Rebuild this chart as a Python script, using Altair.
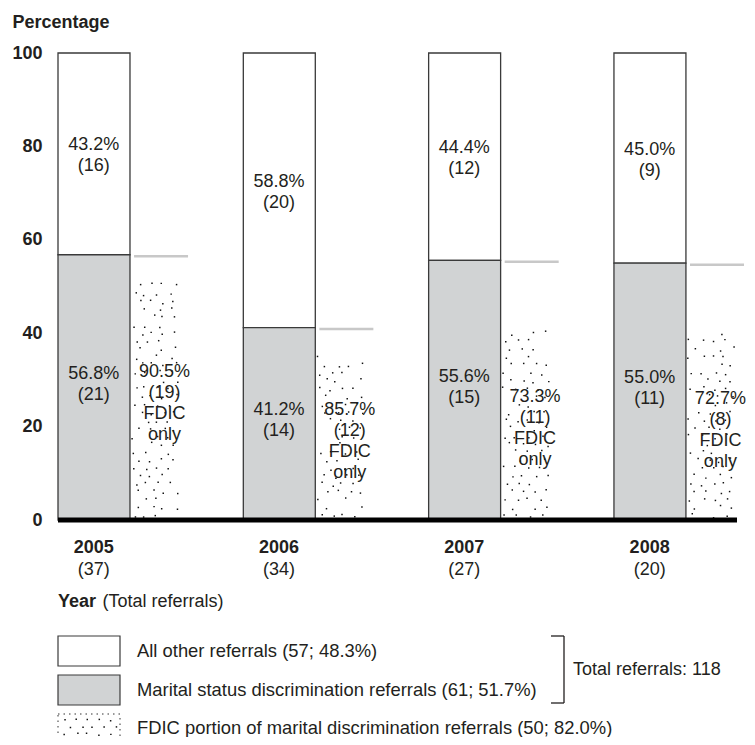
import altair as alt
import pandas as pd

# ---------------- data ----------------
years = ["2005", "2006", "2007", "2008"]
total_referrals = [37, 34, 27, 20]
other_pct = [43.2, 58.8, 44.4, 45.0]
other_n = [16, 20, 12, 9]
marital_pct = [56.8, 41.2, 55.6, 55.0]
marital_n = [21, 14, 15, 11]
fdic_pct = [90.5, 85.7, 73.3, 72.7]
fdic_n = [19, 12, 11, 8]
y_ticks = [0, 20, 40, 60, 80, 100]
legend_labels = [
    "All other referrals (57; 48.3%)",
    "Marital status discrimination referrals (61; 51.7%)",
    "FDIC portion of marital discrimination referrals (50; 82.0%)",
]
bracket_label = "Total referrals: 118"

# ---------------- styling ----------------
FONT = "Liberation Sans"
TXT = "#231f20"
GREY = "#d1d3d4"
EDGE = "#3a3a3a"
FS = 18
FS_LEG = 18.4
LH = 21
W, H = 679, 467
MAIN_END = 0.585
LABEL_POS = 0.29
FDIC_LABEL_POS = 0.865

df = pd.DataFrame({
    "year": years,
    "total": total_referrals,
    "other_pct": other_pct,
    "other_n": other_n,
    "marital_pct": marital_pct,
    "marital_n": marital_n,
    "fdic_pct": fdic_pct,
    "fdic_n": fdic_n,
})
df["fdic_height"] = df.marital_pct * df.fdic_pct / 100
df["other_mid"] = df.marital_pct + df.other_pct / 2
df["marital_mid"] = df.marital_pct / 2
df["fdic_mid"] = df.fdic_height / 2
df["top"] = 100
df["other_label"] = [f"{p:.1f}%\n({n})" for p, n in zip(other_pct, other_n)]
df["marital_label"] = [f"{p:.1f}%\n({n})" for p, n in zip(marital_pct, marital_n)]
df["fdic_label"] = [f"{p:.1f}%\n({n})\nFDIC\nonly" for p, n in zip(fdic_pct, fdic_n)]
df["total_label"] = [f"({n})" for n in total_referrals]

one = pd.DataFrame({"k": [0]})
leg_df = pd.DataFrame({"label": legend_labels, "i": [0, 1, 2]})

xs = alt.Scale(type="band", domain=years, paddingInner=0.336, paddingOuter=0)
ys = alt.Scale(domain=[0, 100], nice=False)
yaxis = alt.Axis(
    values=y_ticks, grid=False, domain=False, ticks=False, tickSize=0,
    labelPadding=16, labelFont=FONT, labelFontSize=18, labelFontWeight="bold",
    labelColor=TXT, title="Percentage", titleAngle=0, titleAlign="left",
    titleBaseline="middle", titleX=-46, titleY=-31, titleFont=FONT,
    titleFontSize=18, titleFontWeight="bold", titleColor=TXT,
)


def X(pos):
    return alt.X("year:N", scale=xs, bandPosition=pos, axis=None)


def X2(pos):
    return alt.X2("year", bandPosition=pos)


def Y(field):
    return alt.Y(field, scale=ys, axis=yaxis)


base = alt.Chart(df)

white = base.mark_bar(fill="white", stroke=EDGE, strokeWidth=1.3).encode(
    x=X(0), x2=X2(MAIN_END), y=Y("marital_pct:Q"), y2="top:Q"
)
grey = base.mark_bar(fill=GREY, stroke=EDGE, strokeWidth=1.3).encode(
    x=X(0), x2=X2(MAIN_END), y=Y("marital_pct:Q"), y2=alt.datum(0)
)
ref_line = base.mark_rule(color="#c8c8c8", strokeWidth=2.5, x2Offset=7, yOffset=1.5).encode(
    x=X(0.618), x2=X2(1.0), y=Y("marital_pct:Q")
)

# stipple texture of the FDIC bars (deterministic pattern, not data)
dots = base.transform_calculate(
    idx="sequence(0, 140)"
).transform_flatten(["idx"]).transform_calculate(
    row="floor(datum.idx / 4)",
    col="datum.idx % 4",
    jx="abs(sin(datum.idx * 12.9898 + toNumber(datum.year) * 4.1414) * 43758.5453) % 1",
    jy="abs(sin(datum.idx * 78.233 + toNumber(datum.year) * 2.7182) * 24634.6345) % 1",
    jk="abs(sin(datum.idx * 39.425 + toNumber(datum.year) * 1.618) * 15731.743) % 1",
).transform_calculate(
    u="0.6 + (datum.col + 0.5 * (datum.row % 2)) * 0.095 + datum.jx * 0.045",
    v="0.4 + datum.row * 1.7 + datum.jy * 1.0",
).transform_filter(
    "datum.v < datum.fdic_height - 0.2 && datum.jk > 0.12"
).mark_square(size=2.2, color="#111111", opacity=1).encode(
    x=X(0),
    xOffset=alt.XOffset("u:Q", scale=alt.Scale(domain=[0, 1])),
    y=Y("v:Q"),
)

baseline = alt.Chart(one).mark_rule(color="black", strokeWidth=5).encode(
    x=alt.value(0), x2=alt.value(W), y=alt.value(H)
)

txt_kw = dict(font=FONT, fontSize=FS, color=TXT, lineBreak="\n", lineHeight=LH, baseline="middle")
other_txt = base.mark_text(**txt_kw, dy=2 - LH / 2).encode(
    x=X(LABEL_POS), y=Y("other_mid:Q"), text="other_label:N"
)
marital_txt = base.mark_text(**txt_kw, dy=-3 - LH / 2).encode(
    x=X(LABEL_POS), y=Y("marital_mid:Q"), text="marital_label:N"
)
fdic_txt = base.mark_text(**txt_kw, dy=4 - 1.5 * LH).encode(
    x=X(FDIC_LABEL_POS), y=Y("fdic_mid:Q"), text="fdic_label:N"
)
year_txt = base.mark_text(font=FONT, fontSize=FS, fontWeight="bold", color=TXT, baseline="middle").encode(
    x=X(LABEL_POS), y=alt.value(495), text="year:N"
)
total_txt = base.mark_text(font=FONT, fontSize=FS, color=TXT, baseline="middle").encode(
    x=X(LABEL_POS), y=alt.value(517), text="total_label:N"
)

axis_title_a = alt.Chart(one).mark_text(font=FONT, fontSize=FS, fontWeight="bold", color=TXT,
                                         align="left", baseline="middle").encode(
    x=alt.value(0), y=alt.value(549), text=alt.value("Year"))
axis_title_b = alt.Chart(one).mark_text(font=FONT, fontSize=FS, color=TXT,
                                         align="left", baseline="middle").encode(
    x=alt.value(44.5), y=alt.value(549), text=alt.value("(Total referrals)"))

leg = alt.Chart(leg_df).transform_calculate(
    top="583 + datum.i * 39", bot="613 + datum.i * 39", mid="598 + datum.i * 38.5"
)
leg_boxes = leg.transform_filter("datum.i < 2").mark_rect(stroke=EDGE, strokeWidth=1.2).encode(
    x=alt.value(0), x2=alt.value(62),
    y=alt.Y("top:Q", scale=None), y2="bot:Q",
    fill=alt.Fill("label:N", scale=alt.Scale(domain=legend_labels, range=["white", GREY, "white"]), legend=None),
)
leg_box_dot = leg.transform_filter("datum.i == 2").mark_rect(
    fill="white", stroke="#333333", strokeWidth=1, strokeDash=[1.5, 4]
).encode(x=alt.value(0), x2=alt.value(62), y=alt.Y("top:Q", scale=None), y2=alt.Y2("bot:Q"))
leg_text = leg.mark_text(font=FONT, fontSize=FS_LEG, color=TXT, align="left", baseline="middle").encode(
    x=alt.value(79), y=alt.Y("mid:Q", scale=None), text="label:N"
)
leg_dots = alt.Chart(one).transform_calculate(
    idx="sequence(0, 30)"
).transform_flatten(["idx"]).transform_calculate(
    row="floor(datum.idx / 5)",
    col="datum.idx % 5",
    jx="abs(sin(datum.idx * 12.9898 + 3.1) * 43758.5453) % 1",
    jy="abs(sin(datum.idx * 78.233 + 1.7) * 24634.6345) % 1",
).transform_calculate(
    px="5 + (datum.col + 0.5 * (datum.row % 2)) * 11 + datum.jx * 4",
    py="666 + datum.row * 7 + datum.jy * 2.5",
).transform_filter("datum.px < 59").mark_square(size=2.2, color="#111111", opacity=1).encode(
    x=alt.X("px:Q", scale=None), y=alt.Y("py:Q", scale=None)
)

br_v = alt.Chart(one).mark_rule(color=TXT, strokeWidth=1.3).encode(
    x=alt.value(506), y=alt.value(583), y2=alt.value(650))
br_t = alt.Chart(one).mark_rule(color=TXT, strokeWidth=1.3).encode(
    x=alt.value(493), x2=alt.value(506), y=alt.value(583))
br_b = alt.Chart(one).mark_rule(color=TXT, strokeWidth=1.3).encode(
    x=alt.value(493), x2=alt.value(506), y=alt.value(650))
br_txt = alt.Chart(one).mark_text(font=FONT, fontSize=FS, color=TXT, align="left", baseline="middle").encode(
    x=alt.value(515), y=alt.value(617), text=alt.value(bracket_label))

chart = alt.layer(
    white, grey, ref_line, dots, baseline, other_txt, marital_txt, fdic_txt,
    year_txt, total_txt, axis_title_a, axis_title_b,
    leg_boxes, leg_box_dot, leg_dots, leg_text, br_v, br_t, br_b, br_txt,
).properties(
    width=W, height=H,
    autosize=alt.AutoSizeParams(type="none"),
    padding={"left": 50, "top": 45, "right": 10, "bottom": 217},
).configure_view(stroke=None)

chart.save("out.html", embed_options={"renderer": "svg", "actions": False})
